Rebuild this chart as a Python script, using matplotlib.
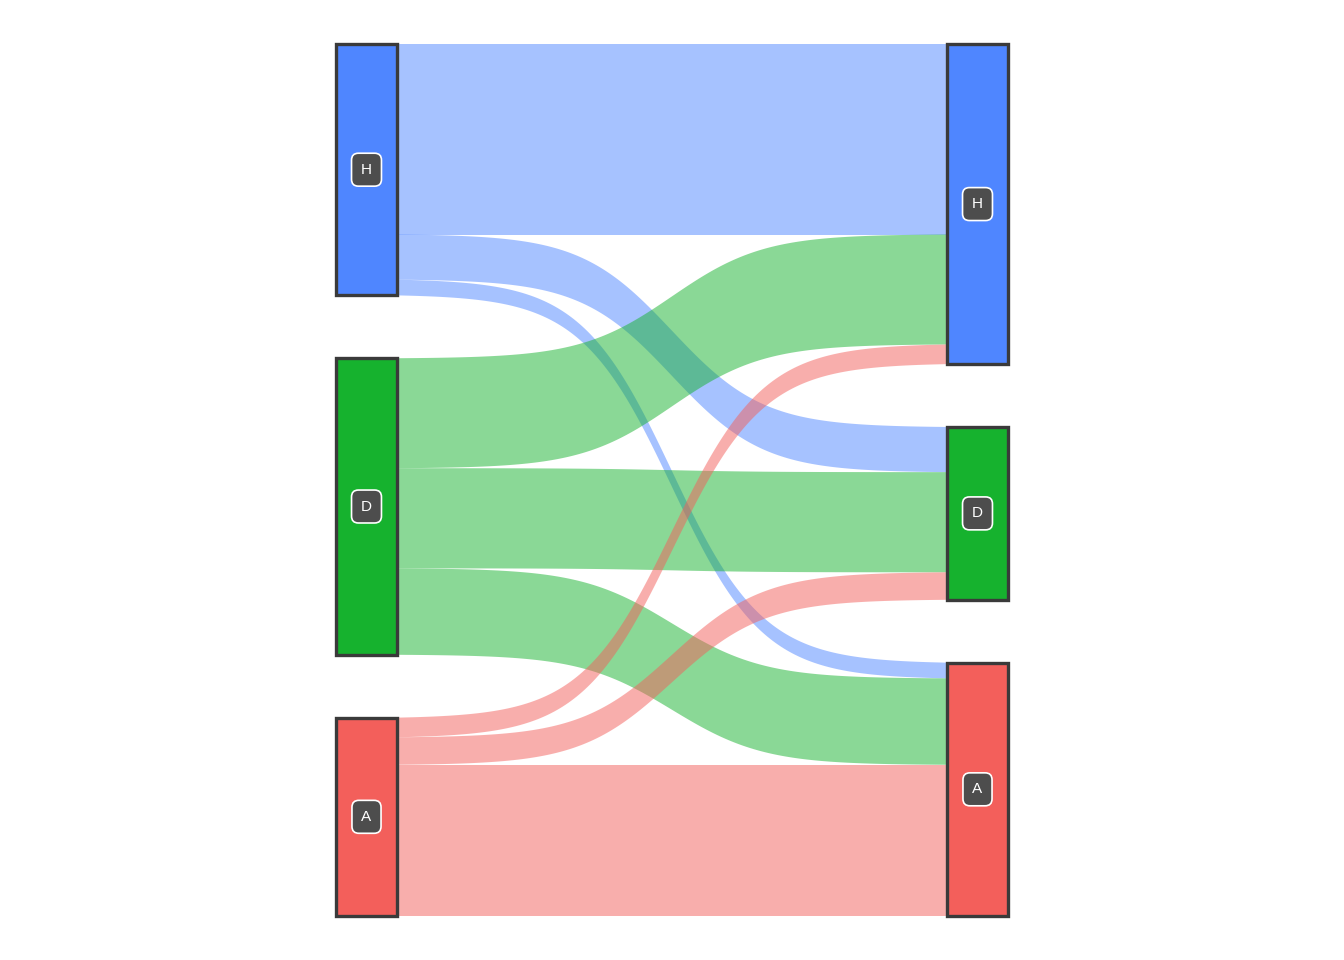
import numpy as np
import matplotlib.pyplot as plt
from matplotlib.patches import Rectangle, Polygon

# categories and flow counts (left stratum -> right stratum)
levels = ["H", "D", "A"]
level_colors = ["#4F86FF", "#16B22E", "#F35F5B"]
flow_from = ["H", "H", "H", "D", "D", "D", "A", "A", "A"]
flow_to = ["H", "D", "A", "H", "D", "A", "H", "D", "A"]
flow_n = [97, 23, 8, 56, 51, 44, 10, 14, 77]

gap = 32.0      # vertical space between strata (count units)
w = 61 / 672    # stratum width in axis units

fig = plt.figure(figsize=(13.44, 9.6), dpi=100)
ax = fig.add_axes([336 / 1344, 44 / 960, 672 / 1344, 872 / 960])
ax.set_axis_off()

total = sum(flow_n)
ax.set_xlim(0, 1)
ax.set_ylim(total + 2 * gap, 0)

col = dict(zip(levels, level_colors))

# node extents
def node_spans(side_of):
    spans = {}
    y = 0.0
    for lv in levels:
        n = sum(v for s, v in zip(side_of, flow_n) if s == lv)
        spans[lv] = (y, y + n)
        y += n + gap
    return spans

left_span = node_spans(flow_from)
right_span = node_spans(flow_to)

# flow positions inside each node
left_cur = {lv: left_span[lv][0] for lv in levels}
right_cur = {lv: right_span[lv][0] for lv in levels}
flows = []
for a in levels:
    for b in levels:
        for f, t, n in zip(flow_from, flow_to, flow_n):
            if f == a and t == b:
                flows.append([f, t, n, left_cur[a], 0.0])
                left_cur[a] += n
for b in levels:
    for fl in flows:
        if fl[1] == b:
            fl[4] = right_cur[b]
            right_cur[b] += fl[2]

# sigmoid flow shape
uu = np.linspace(0, 1, 200)
r = 6.0
sg = 1 / (1 + np.exp(-r * (2 * uu - 1)))
sg = (sg - sg[0]) / (sg[-1] - sg[0])
def curve(y0, y1):
    x = w + uu * (1 - 2 * w)
    return x, y0 + (y1 - y0) * sg

for f, t, n, yl, yr in flows:
    xt, yt = curve(yl, yr)
    xb, yb = curve(yl + n, yr + n)
    pts = np.vstack([np.column_stack([xt, yt]), np.column_stack([xb, yb])[::-1]])
    ax.add_patch(Polygon(pts, closed=True, facecolor=col[f], alpha=0.5,
                         edgecolor="none", zorder=1))

for spans, x0 in [(left_span, 0), (right_span, 1 - w)]:
    for lv in levels:
        y0, y1 = spans[lv]
        ax.add_patch(Rectangle((x0, y0), w, y1 - y0, facecolor=col[lv],
                               edgecolor="#3A3A3A", linewidth=2.4, zorder=2,
                               clip_on=False))
        ax.text(x0 + w / 2, (y0 + y1) / 2, lv, color="white", fontsize=11,
                family="Liberation Sans", ha="center", va="center", zorder=3,
                bbox=dict(boxstyle="round,pad=0.62,rounding_size=0.45",
                          facecolor="#4D4D4D", edgecolor="white", linewidth=1.2))

fig.savefig("out.png", dpi=100)
